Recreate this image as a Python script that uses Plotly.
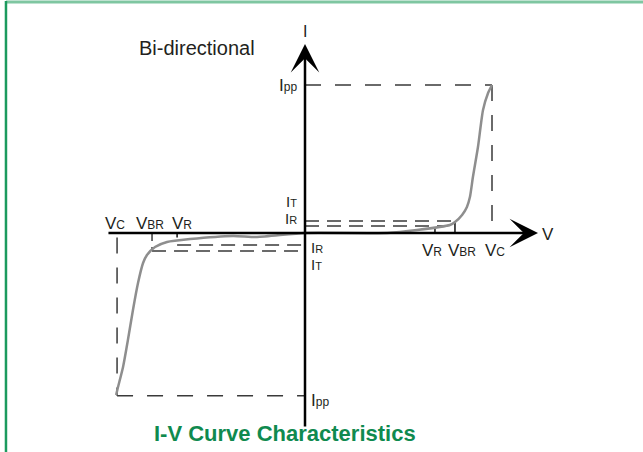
import plotly.graph_objects as go

# ---- schematic values (arbitrary units) ----
V_C_POS, V_BR_POS, V_R_POS = 10.0, 8.02, 6.95
V_C_NEG, V_BR_NEG, V_R_NEG = -10.05, -8.18, -6.84
I_PP_POS, I_T_POS, I_R_POS = 10.0, 0.81, 0.47
I_PP_NEG, I_R_NEG, I_T_NEG = -11.0, -0.81, -1.22

curve_v = [-10.1, -10.0, -9.73, -9.47, -9.20, -8.93, -8.66, -8.45, -8.02, -7.38, -6.15, -3.85, -2.57, 0.0,
           4.39, 5.99, 7.75, 8.02, 8.40, 8.66, 8.82, 8.98, 9.25, 9.52, 9.79, 10.0]
curve_i = [-10.95, -10.41, -9.05, -7.23, -5.20, -3.38, -2.03, -1.49, -0.95, -0.61, -0.41, -0.20, -0.27, 0.0,
           0.0, 0.20, 0.54, 0.74, 1.22, 1.76, 2.43, 3.78, 5.81, 8.31, 9.46, 10.0]

V_AXIS = [-10.59, 12.46]
I_AXIS = [-13.18, 12.77]

X_RANGE = [-16.310, 18.075]
Y_RANGE = [-14.797, 15.743]

DASH_COLOR = "#3a3a3a"
TEXT_COLOR = "#231f20"
FONT = "Liberation Sans, Arial, sans-serif"

fig = go.Figure()

def dashed(xs, ys, dash="16px,14px", width=1.5):
    fig.add_trace(go.Scatter(x=xs, y=ys, mode="lines",
                             line=dict(color=DASH_COLOR, width=width, dash=dash),
                             hoverinfo="skip", showlegend=False))

def solid(xs, ys, width=1.5, color="#111"):
    fig.add_trace(go.Scatter(x=xs, y=ys, mode="lines",
                             line=dict(color=color, width=width),
                             hoverinfo="skip", showlegend=False))

# upper quadrant guides
dashed([0, V_C_POS], [I_PP_POS, I_PP_POS])
dashed([V_C_POS, V_C_POS], [I_PP_POS, 0])
dashed([0, V_BR_POS], [I_T_POS, I_T_POS], dash="14px,8px")
dashed([0, V_BR_POS - 0.4], [I_R_POS, I_R_POS], dash="14px,8px")
solid([V_BR_POS, V_BR_POS], [I_T_POS, 0])
solid([V_R_POS, V_R_POS], [0.35, 0])

# lower quadrant guides
dashed([V_C_NEG, 0], [I_PP_NEG, I_PP_NEG])
dashed([V_C_NEG, V_C_NEG], [-0.3, I_PP_NEG])
dashed([V_R_NEG, 0], [I_R_NEG, I_R_NEG], dash="14px,8px")
dashed([V_BR_NEG, 0], [I_T_NEG, I_T_NEG], dash="14px,8px")
dashed([V_BR_NEG, V_BR_NEG], [0, I_T_NEG], dash="8px,6px")
solid([V_R_NEG, V_R_NEG], [0, -0.3])

# I-V curve
fig.add_trace(go.Scatter(x=curve_v, y=curve_i, mode="lines",
                         line=dict(color="#8e8e8e", width=2.5, shape="spline", smoothing=0.6),
                         hoverinfo="skip", showlegend=False))

annotations = []
# axes with arrowheads
annotations.append(dict(x=V_AXIS[1], y=0, ax=V_AXIS[0], ay=0, xref="x", yref="y", axref="x", ayref="y",
                        text="", showarrow=True, arrowhead=3, arrowwidth=2.5, arrowsize=1.9, arrowcolor="#000"))
annotations.append(dict(x=0, y=I_AXIS[1], ax=0, ay=I_AXIS[0], xref="x", yref="y", axref="x", ayref="y",
                        text="", showarrow=True, arrowhead=3, arrowwidth=2.5, arrowsize=1.9, arrowcolor="#000"))

def sub(main, s, big=17, small=12):
    return f"<span style='font-size:{big}px'>{main}</span><span style='font-size:{small}px'>{s}</span>"

def label(x, y, text, xanchor="center", size=17):
    annotations.append(dict(x=x, y=y, xref="x", yref="y", text=text, showarrow=False,
                            xanchor=xanchor, yanchor="middle", borderpad=0,
                            font=dict(family=FONT, size=size, color=TEXT_COLOR)))

label(0, 13.6, "I", size=16)
label(12.6, -0.12, "V", xanchor="left", size=17)

# upper current labels
label(-0.35, I_PP_POS, sub("I", "pp"), xanchor="right")
label(-0.35, 2.13, sub("I", "T", 15, 11), xanchor="right", size=15)
label(-0.35, 0.98, sub("I", "R", 15, 11), xanchor="right", size=15)
# lower current labels
label(0.25, -0.98, sub("I", "R", 15, 11), xanchor="left", size=15)
label(0.25, -2.13, sub("I", "T", 15, 11), xanchor="left", size=15)
label(0.25, -11.3, sub("I", "pp"), xanchor="left")

# right voltage labels
label(6.78, -1.15, sub("V", "R"))
label(8.4, -1.15, sub("V", "BR"))
label(10.15, -1.15, sub("V", "C"))
# left voltage labels
label(-10.15, 0.62, sub("V", "C"))
label(-8.3, 0.62, sub("V", "BR"))
label(-6.6, 0.62, sub("V", "R"))

# "Bi-directional" text
annotations.append(dict(x=0.307, y=0.893, xref="paper", yref="paper", text="Bi-directional",
                        showarrow=False, xanchor="center", yanchor="middle",
                        font=dict(family=FONT, size=20, color=TEXT_COLOR)))
# title
annotations.append(dict(x=0.443, y=0.042, xref="paper", yref="paper", text="<b>I-V Curve Characteristics</b>",
                        showarrow=False, xanchor="center", yanchor="middle",
                        font=dict(family=FONT, size=22, color="#0f8a4f")))

shapes = [
    dict(type="line", xref="paper", yref="paper", x0=0.0093, x1=1.0, y0=0.9956, y1=0.9956,
         line=dict(color="#7fc6a1", width=3)),
    dict(type="line", xref="paper", yref="paper", x0=0.0093, x1=0.0093, y0=0.0, y1=0.998,
         line=dict(color="#1c9a5e", width=2.5)),
]

fig.update_layout(
    width=643, height=452,
    margin=dict(l=0, r=0, t=0, b=0),
    paper_bgcolor="white", plot_bgcolor="white",
    xaxis=dict(range=X_RANGE, visible=False, fixedrange=True),
    yaxis=dict(range=Y_RANGE, visible=False, fixedrange=True),
    annotations=annotations,
    shapes=shapes,
    showlegend=False,
)

fig.write_html("out.html", config={"displayModeBar": False},
               post_script="document.body.style.margin='0';document.body.style.overflow='hidden';")
